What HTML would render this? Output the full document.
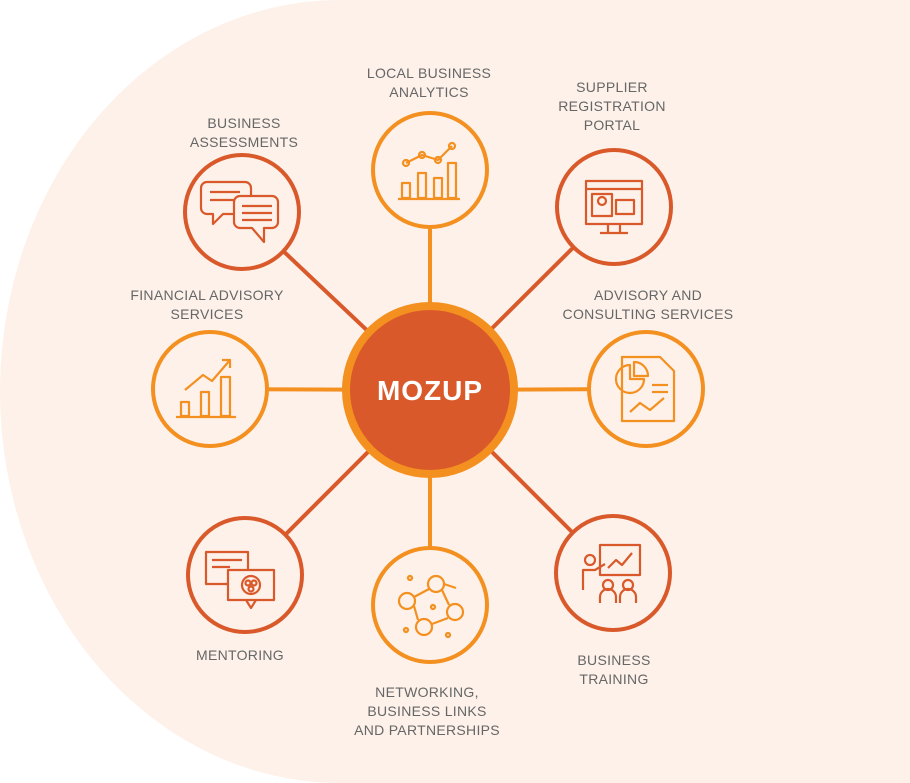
<!DOCTYPE html>
<html><head><meta charset="utf-8"><style>
html,body{margin:0;padding:0;background:#fff;}
body{width:910px;height:783px;overflow:hidden;position:relative;}
svg{position:absolute;left:0;top:0;}
text{font-family:"Liberation Sans",sans-serif;font-size:14px;fill:#666;letter-spacing:0.3px;text-anchor:middle;}
</style></head><body>
<svg width="910" height="783" viewBox="0 0 910 783">
<rect x="0" y="0" width="1400" height="783" rx="340" ry="392" fill="#fdf1ea"/>
<g stroke-width="4">
<line x1="430" y1="390" x2="430" y2="170" stroke="#f39020"/>
<line x1="430" y1="390" x2="614" y2="207" stroke="#d9592a"/>
<line x1="430" y1="390" x2="242" y2="212" stroke="#d9592a"/>
<line x1="430" y1="390" x2="210" y2="389" stroke="#f39020"/>
<line x1="430" y1="390" x2="646" y2="389" stroke="#f39020"/>
<line x1="430" y1="390" x2="245" y2="575" stroke="#d9592a"/>
<line x1="430" y1="390" x2="430" y2="605" stroke="#f39020"/>
<line x1="430" y1="390" x2="613" y2="573" stroke="#d9592a"/>
</g>
<g fill="#fdf1ea" stroke-width="4">
<circle cx="430" cy="170" r="57" stroke="#f39020"/>
<circle cx="614" cy="207" r="57" stroke="#d9592a"/>
<circle cx="242" cy="212" r="57" stroke="#d9592a"/>
<circle cx="210" cy="389" r="57" stroke="#f39020"/>
<circle cx="646" cy="389" r="57" stroke="#f39020"/>
<circle cx="245" cy="575" r="57" stroke="#d9592a"/>
<circle cx="430" cy="605" r="57" stroke="#f39020"/>
<circle cx="613" cy="573" r="57" stroke="#d9592a"/>
</g>
<circle cx="430" cy="390" r="84" fill="#d9592a" stroke="#f39020" stroke-width="8"/>
<text x="430" y="400" style="font-size:28px;font-weight:bold;fill:#fff;letter-spacing:1px">MOZUP</text>

<g fill="none" stroke-width="2.2" stroke-linejoin="round">
<g stroke="#f39020"><rect x="402" y="183" width="8" height="15"/><rect x="418" y="173" width="8" height="25"/><rect x="434" y="178" width="8" height="20"/><rect x="448" y="163" width="8" height="35"/><line x1="398" y1="199" x2="460" y2="199"/><polyline points="406,163 422,155 438,160 452,146"/><circle cx="406" cy="163" r="3"/><circle cx="422" cy="155" r="3"/><circle cx="438" cy="160" r="3"/><circle cx="452" cy="146" r="3"/></g>
<g stroke="#d9592a"><rect x="586" y="181" width="56" height="43"/><line x1="586" y1="189" x2="642" y2="189"/><rect x="592" y="194" width="20" height="22"/><circle cx="602" cy="201" r="4"/><rect x="616" y="200" width="18" height="14"/><line x1="608" y1="224" x2="608" y2="232"/><line x1="620" y1="224" x2="620" y2="232"/><line x1="600" y1="233" x2="628" y2="233"/></g>
<g stroke="#d9592a"><path d="M207 182h38a6 6 0 0 1 6 6v20a6 6 0 0 1-6 6h-22l-10 10v-10h-6a6 6 0 0 1-6-6v-20a6 6 0 0 1 6-6z"/><path d="M240 196h32a6 6 0 0 1 6 6v20a6 6 0 0 1-6 6h-8v14l-12-14h-12a6 6 0 0 1-6-6v-20a6 6 0 0 1 6-6z" fill="#fdf1ea"/><line x1="210" y1="192" x2="240" y2="192"/><line x1="210" y1="200" x2="235" y2="200"/><line x1="242" y1="206" x2="272" y2="206"/><line x1="242" y1="213" x2="272" y2="213"/><line x1="242" y1="220" x2="272" y2="220"/></g>
<g stroke="#f39020"><rect x="181" y="402" width="8" height="14"/><rect x="201" y="392" width="8" height="24"/><rect x="221" y="377" width="9" height="39"/><line x1="176" y1="417" x2="236" y2="417"/><polyline points="185,390 203,375 212,381 230,360"/><polyline points="222,360 230,360 230,368"/></g>
<g stroke="#f39020"><path d="M622 357h38l14 14v50h-52z"/><path d="M630 365a14 14 0 1 0 14 14h-14z"/><path d="M634 362a14 14 0 0 1 14 14h-14z"/><line x1="652" y1="385" x2="668" y2="385"/><line x1="652" y1="392" x2="668" y2="392"/><polyline points="630,412 640,403 650,410 664,398"/></g>
<g stroke="#d9592a"><rect x="206" y="552" width="42" height="32"/><line x1="212" y1="560" x2="242" y2="560"/><line x1="212" y1="567" x2="230" y2="567"/><rect x="228" y="570" width="46" height="30" fill="#fdf1ea"/><path d="M246 600l5 8 5-8"/><circle cx="251" cy="585" r="9"/><circle cx="248" cy="583" r="2.5"/><circle cx="254" cy="583" r="2.5"/><circle cx="251" cy="589" r="2.5"/></g>
<g stroke="#f39020"><circle cx="436" cy="584" r="8"/><circle cx="407" cy="601" r="8"/><circle cx="455" cy="612" r="8"/><circle cx="424" cy="627" r="8"/><line x1="429" y1="589" x2="414" y2="597"/><line x1="442" y1="590" x2="449" y2="605"/><line x1="414" y1="606" x2="418" y2="620"/><line x1="448" y1="618" x2="432" y2="624"/><circle cx="410" cy="578" r="2"/><circle cx="433" cy="607" r="2"/><circle cx="448" cy="635" r="2"/><circle cx="406" cy="630" r="2"/><line x1="444" y1="584" x2="456" y2="588"/></g>
<g stroke="#d9592a"><rect x="600" y="545" width="40" height="30"/><polyline points="608,568 616,560 622,565 632,553"/><circle cx="590" cy="560" r="5"/><path d="M583 590v-20h12l10-6"/><circle cx="608" cy="585" r="5"/><circle cx="628" cy="585" r="5"/><path d="M600 603v-6a8 8 0 0 1 16 0v6M620 603v-6a8 8 0 0 1 16 0v6"/></g>
</g>

<text x="429" y="78">LOCAL BUSINESS</text><text x="429" y="97">ANALYTICS</text>
<text x="612" y="92">SUPPLIER</text><text x="612" y="111">REGISTRATION</text><text x="612" y="130">PORTAL</text>
<text x="244" y="128">BUSINESS</text><text x="244" y="147">ASSESSMENTS</text>
<text x="207" y="300">FINANCIAL ADVISORY</text><text x="207" y="319">SERVICES</text>
<text x="648" y="300">ADVISORY AND</text><text x="648" y="319">CONSULTING SERVICES</text>
<text x="240" y="660">MENTORING</text>
<text x="427" y="697">NETWORKING,</text><text x="427" y="716">BUSINESS LINKS</text><text x="427" y="735">AND PARTNERSHIPS</text>
<text x="614" y="665">BUSINESS</text><text x="614" y="684">TRAINING</text>
</svg>
</body></html>
